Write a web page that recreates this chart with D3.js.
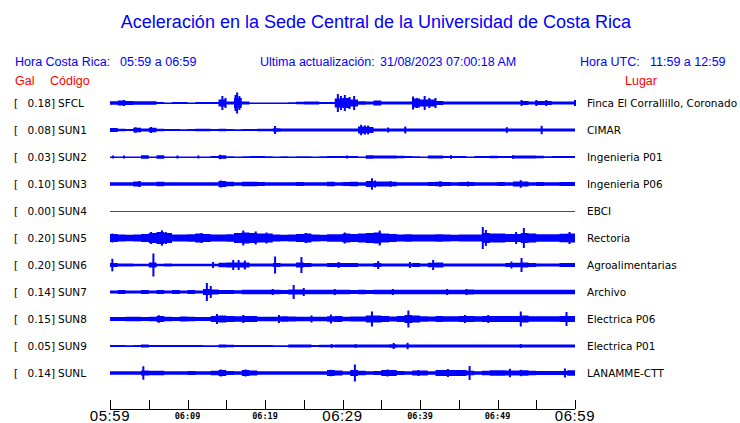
<!DOCTYPE html>
<html><head><meta charset="utf-8">
<script src="https://cdn.jsdelivr.net/npm/d3@7"></script>
<style>body{margin:0;background:#fff}svg{display:block}</style>
</head><body><svg id="c" width="740" height="423"></svg>
<script>
// ---------- DATA ----------
const stations = ["SFCL","SUN1","SUN2","SUN3","SUN4","SUN5","SUN6","SUN7","SUN8","SUN9","SUNL"];
const peakGal  = [0.18,0.08,0.03,0.10,0.00,0.20,0.20,0.14,0.15,0.05,0.14];
const places   = ["Finca El Corrallillo, Coronado","CIMAR","Ingenieria P01","Ingenieria P06","EBCI","Rectoria","Agroalimentarias","Archivo","Electrica P06","Electrica P01","LANAMME-CTT"];
// minute offsets from 05:59 for axis ticks and labels
const tickMinutes  = [0,5,10,15,20,25,30,35,40,45,50,55,60];
const labelMinutes = [0,10,20,30,40,50,60];
const labelTexts   = ["05:59","06:09","06:19","06:29","06:39","06:49","06:59"];
const bigLabels    = ["05:59","06:29","06:59"];

// per-minute amplitude envelope (relative units), minute 0..59
const envSFCL = [1.7,2.5,2.0,1.7,1.7,1.7,1.0,0.5,1.0,1.0, 0.5,1.0,1.0,1.0,3.5,1.5,5.0,1.5,0.5,0.5, 0.5,0.5,0.5,0.8,1.2,1.5,1.5,1.0,1.0,4.5, 5.0,3.5,1.8,1.5,2.5,1.5,1.5,1.5,1.5,4.5, 3.5,3.5,2.0,1.5,1.5,1.5,1.5,1.5,1.5,1.5, 1.5,1.5,1.5,2.0,1.5,2.0,2.0,1.5,1.5,1.5];
const envSUN1 = [2.0,1.2,1.0,2.3,1.5,2.3,1.2,1.0,1.0,0.8, 1.0,1.2,1.2,1.0,1.2,1.0,0.8,1.0,1.0,1.2, 1.2,1.8,1.4,1.4,1.4,1.4,1.4,1.4,1.4,1.4, 1.4,1.5,3.5,3.0,1.5,1.5,1.5,1.5,1.5,1.5, 1.5,1.5,1.5,1.5,1.5,1.5,1.5,1.5,1.5,1.5, 1.5,1.5,1.5,1.5,1.5,1.5,1.5,1.5,1.5,1.5];
const envSUN2 = [0.5,0.5,0.5,0.5,1.7,0.5,1.7,0.5,0.5,0.5, 0.5,0.5,0.5,1.0,1.8,0.8,0.5,0.8,1.0,1.0, 0.7,0.5,0.7,0.5,0.7,0.7,0.5,0.8,1.0,1.0, 1.0,1.0,0.5,1.7,1.5,1.6,1.5,1.2,1.0,0.7, 0.6,1.5,1.6,1.0,1.1,1.0,0.6,1.0,1.0,1.2, 1.0,1.0,1.6,1.6,1.5,1.2,0.8,1.1,1.1,1.1];
const envSUN3 = [1.7,1.7,1.7,2.5,1.7,1.7,2.3,1.7,1.7,1.7, 1.7,1.7,1.7,1.7,3.0,2.2,1.7,2.2,2.2,2.0, 1.7,1.7,1.7,1.7,2.0,1.7,1.7,1.7,2.2,1.7, 2.0,2.2,1.7,3.0,2.5,2.5,2.3,1.7,1.7,1.7, 1.7,2.0,2.3,2.0,1.7,2.0,2.0,1.7,1.7,1.7, 2.0,1.7,2.5,2.5,1.7,2.0,1.7,1.7,2.0,2.0];
const envSUN4 = [0,0,0,0,0,0,0,0,0,0, 0,0,0,0,0,0,0,0,0,0, 0,0,0,0,0,0,0,0,0,0, 0,0,0,0,0,0,0,0,0,0, 0,0,0,0,0,0,0,0,0,0, 0,0,0,0,0,0,0,0,0,0];
const envSUN5 = [4.0,3.5,3.3,3.5,4.0,5.0,6.0,5.0,3.5,3.5, 3.7,4.5,4.0,3.5,3.5,3.7,5.0,5.5,5.0,4.5, 4.5,3.5,3.3,3.5,4.0,4.5,3.5,3.3,3.7,3.7, 4.5,4.0,4.5,5.0,5.5,4.5,4.0,3.5,3.7,3.5, 3.5,3.5,3.7,3.5,3.3,3.5,3.5,3.5,5.0,4.5, 4.5,4.0,4.0,5.0,4.5,3.7,3.7,3.7,4.3,4.5];
const envSUN6 = [2.0,1.6,1.6,1.2,1.2,2.5,1.3,1.5,1.2,1.2, 1.2,1.2,1.2,1.2,2.2,2.5,2.5,2.5,1.5,1.5, 1.5,2.0,1.5,1.5,2.5,2.0,1.5,1.5,2.0,2.0, 2.0,2.0,1.5,1.5,2.0,1.6,1.6,1.6,1.6,2.0, 1.6,2.2,2.5,1.6,1.6,1.6,1.6,1.6,1.6,1.6, 1.6,2.0,2.2,2.5,2.0,1.6,1.6,1.6,2.0,2.0];
const envSUN7 = [1.5,2.0,1.5,1.5,2.0,1.5,2.0,1.5,2.0,1.5, 2.0,1.5,3.0,2.5,2.0,2.0,1.8,2.3,2.3,2.3, 2.3,2.3,2.0,2.5,2.5,2.3,2.3,2.3,2.3,2.3, 2.3,2.0,2.3,2.0,2.2,2.2,2.2,2.2,2.2,2.2, 2.2,2.2,2.2,2.2,2.2,2.2,2.5,2.3,2.3,2.3, 2.3,2.3,2.3,2.3,2.3,2.3,2.3,2.3,2.3,2.3];
const envSUN8 = [2.0,2.0,2.3,2.3,2.0,2.3,3.0,2.3,2.0,2.5, 2.3,2.0,2.0,3.0,3.5,3.0,2.7,3.0,3.0,2.3, 2.3,2.3,2.7,2.5,2.3,2.3,2.3,2.3,2.7,3.0, 2.3,2.5,2.5,3.5,3.5,3.0,2.5,3.0,4.0,3.5, 2.7,2.5,3.0,2.7,2.7,3.0,3.0,2.7,3.0,3.0, 3.0,3.0,3.0,3.5,2.7,2.7,2.7,2.7,3.0,3.0];
const envSUN9 = [0.9,0.9,0.8,0.9,1.6,1.0,1.1,1.0,0.9,1.0, 1.0,1.0,0.8,0.8,1.6,1.3,1.1,1.0,1.0,1.1, 1.0,0.8,0.8,1.5,1.4,1.4,1.1,1.2,1.3,1.4, 1.4,1.6,1.6,1.4,1.4,1.5,1.8,1.6,1.6,1.6, 1.6,1.6,1.6,1.6,1.6,1.6,1.6,1.6,1.6,1.6, 1.6,1.6,1.6,1.6,1.6,1.6,1.6,1.6,1.6,1.6];
const envSUNL = [1.7,1.7,1.7,1.7,2.5,2.2,2.2,1.8,1.8,1.7, 1.9,1.7,1.8,2.2,3.0,2.0,1.8,3.0,2.5,1.7, 1.8,1.7,1.7,1.7,1.8,1.8,1.8,1.8,3.0,2.5, 1.7,3.0,2.2,1.8,2.0,3.0,3.0,2.0,1.8,2.5, 2.5,1.8,3.0,3.0,3.0,3.0,2.3,1.8,2.2,2.8, 2.7,2.5,2.5,2.8,2.2,2.0,2.0,2.0,2.0,2.8];

// peak excursions: [minute, amplitude]
const pkSFCL = [[1.8,3],[14.5,7],[14.9,5],[16.2,8],[16.4,10.5],[16.7,7],[29.4,9],[29.8,7],[30.3,8],[30.9,6],[31.5,7],[39.1,6.5],[39.6,5],[40.6,7],[41.2,5],[42,5],[53.1,3],[55,3],[56.3,3],[60,3]];
const pkSUN1 = [[3.3,2.8],[5.3,3],[21.3,4],[32.4,5.2],[32.9,4.5],[33.3,4.5],[35.9,2.5],[38.1,3.5],[51.2,2.8],[55.7,4.2]];
const pkSUN2 = [[0.4,1.5],[1.8,1.5],[8.7,1.5],[11.4,1.5],[14.2,2.2],[30.6,1.5],[44,1.8],[52,1.8]];
const pkSUN3 = [[3.8,3],[14.3,3.5],[33.8,5.7],[34.2,3.5],[36.2,3],[42.6,2.8],[46.2,2.5],[53,3.8]];
const pkSUN4 = [];
const pkSUN5 = [[0.3,4.5],[5.3,6],[6.7,7.7],[7.2,6],[11.8,5],[17.2,7.5],[18.8,6.5],[20.2,5.5],[25.3,5],[30.3,5.5],[34.8,7.5],[48.1,11],[48.5,8],[52.4,6],[53.4,10],[59.3,6]];
const pkSUN6 = [[0.3,6.3],[5.6,11.5],[13.3,3],[15.9,5],[16.6,5],[17.4,4.5],[21.3,8.5],[24.7,8],[29.5,3],[34.6,4],[38.7,3],[41.7,5],[51.8,3.5],[53.1,7]];
const pkSUN7 = [[12.5,9],[13,6],[21,3],[23.7,7],[25,4],[29,3],[36.5,3],[43.5,3],[46,3]];
const pkSUN8 = [[6.3,3.8],[13.8,5],[17.2,4],[21.8,4],[26,3.5],[28.5,4.5],[33.8,7.5],[38.5,8.5],[45.8,4],[48.8,4],[53,7.5],[58.9,7]];
const pkSUN9 = [[28.6,2],[31.7,1.8],[36.6,3],[38.4,3.2],[53,2]];
const pkSUNL = [[4.3,6.7],[14.3,3.5],[17.5,3.5],[28.5,3.2],[31.6,8.5],[35.8,3.5],[39.8,3],[43.6,4],[46.4,7],[51.6,4.2],[53,3.2],[58.7,4.5]];

const envelopes = [envSFCL,envSUN1,envSUN2,envSUN3,envSUN4,envSUN5,envSUN6,envSUN7,envSUN8,envSUN9,envSUNL];
const peaks     = [pkSFCL,pkSUN1,pkSUN2,pkSUN3,pkSUN4,pkSUN5,pkSUN6,pkSUN7,pkSUN8,pkSUN9,pkSUNL];

// ---------- DRAW ----------
const svg = d3.select("#c");
const BLUE = "#0000ff", RED = "#ff0000";
const T0 = new Date(2023,7,31,5,59);
const tm = m => new Date(T0.getTime() + m*60000);
const x = d3.scaleTime().domain([tm(0), tm(60)]).range([110, 575]);
const row = d3.scaleBand().domain(stations).range([89.5, 386.5]);
const amp = d3.scaleLinear().domain([-13.5, 13.5]).range([13.5, -13.5]);

const sans = "Liberation Sans, Arial, sans-serif";
const dv = "DejaVu Sans, Verdana, sans-serif";

svg.append("text").attr("x", 376).attr("y", 28).attr("text-anchor","middle")
  .attr("font-family", sans).attr("font-size", 18).attr("fill", BLUE)
  .text("Aceleración en la Sede Central de la Universidad de Costa Rica");

const hdr = [[15,"Hora Costa Rica:"],[120,"05:59 a 06:59"],[260,"Ultima actualización:"],[380,"31/08/2023 07:00:18 AM"],[580,"Hora UTC:"],[650,"11:59 a 12:59"]];
svg.selectAll("text.h").data(hdr).enter().append("text").attr("class","h")
  .attr("x", d=>d[0]).attr("y", 66).attr("font-family", sans).attr("font-size", 12.5)
  .attr("fill", BLUE).text(d=>d[1]);
svg.append("text").attr("x",15).attr("y",85).attr("font-family",sans).attr("font-size",12.5).attr("fill",RED).text("Gal");
svg.append("text").attr("x",50).attr("y",85).attr("font-family",sans).attr("font-size",12.5).attr("fill",RED).text("Código");
svg.append("text").attr("x",625).attr("y",85).attr("font-family",sans).attr("font-size",12.5).attr("fill",RED).text("Lugar");

stations.forEach((s,i)=>{
  const cy = row(s) + row.bandwidth()/2;
  const g = svg.append("g").attr("transform",`translate(0,${cy})`);
  g.append("text").attr("x",14).attr("y",4).attr("font-family",dv).attr("font-size",10.5).text("[");
  g.append("text").attr("x",55).attr("y",4).attr("text-anchor","end").attr("font-family",dv).attr("font-size",10.5).text(peakGal[i].toFixed(2)+"]");
  g.append("text").attr("x",58).attr("y",4).attr("font-family",dv).attr("font-size",10.5).text(s);
  g.append("text").attr("x",587).attr("y",4).attr("font-family",dv).attr("font-size",10.5).text(places[i]);

  const env = envelopes[i];
  const zero = peakGal[i] === 0;
  g.append("line").attr("x1",x(tm(0))).attr("x2",x(tm(60))).attr("y1",0.5).attr("y2",0.5)
    .attr("stroke", zero?RED:BLUE).attr("stroke-width", 1).attr("shape-rendering","crispEdges");
  if (!zero) {
    const pts = env.map((a,m)=>[m,a]).concat([[60, env[env.length-1]]]);
    const area = d3.area().curve(d3.curveStepAfter)
      .x(d=>x(tm(d[0]))).y0(d=>amp(-d[1])).y1(d=>amp(d[1]));
    g.append("path").attr("d", area(pts)).attr("fill", BLUE);
    g.selectAll("rect.pk").data(peaks[i]).enter().append("rect").attr("class","pk")
      .attr("x", d=>x(tm(d[0]))-1).attr("width", 2)
      .attr("y", d=>amp(d[1])).attr("height", d=>amp(-d[1])-amp(d[1]))
      .attr("fill", BLUE);
  }
});

// time axis
const axisY = 409;
const ag = svg.append("g");
ag.append("line").attr("x1",x(tm(0))).attr("x2",x(tm(60))).attr("y1",axisY).attr("y2",axisY)
  .attr("stroke","#000").attr("stroke-width",1).attr("shape-rendering","crispEdges");
ag.selectAll("line.t").data(tickMinutes).enter().append("line").attr("class","t")
  .attr("x1",d=>Math.round(x(tm(d)))+0.5).attr("x2",d=>Math.round(x(tm(d)))+0.5)
  .attr("y1",axisY-9).attr("y2",axisY).attr("stroke","#000").attr("stroke-width",1);
ag.selectAll("text.tl").data(labelMinutes).enter().append("text").attr("class","tl")
  .attr("x",d=>x(tm(d))).attr("text-anchor","middle")
  .attr("y",(d,j)=> bigLabels.includes(labelTexts[j]) ? 421 : 419)
  .attr("font-family",(d,j)=> bigLabels.includes(labelTexts[j]) ? sans : "DejaVu Sans Mono, monospace")
  .attr("font-size",(d,j)=> bigLabels.includes(labelTexts[j]) ? 15 : 8.5)
  .attr("font-weight",(d,j)=> bigLabels.includes(labelTexts[j]) ? "normal" : "bold")
  .attr("letter-spacing",(d,j)=> bigLabels.includes(labelTexts[j]) ? 0.6 : 0)
  .attr("fill","#000")
  .text((d,j)=>labelTexts[j]);
</script></body></html>
